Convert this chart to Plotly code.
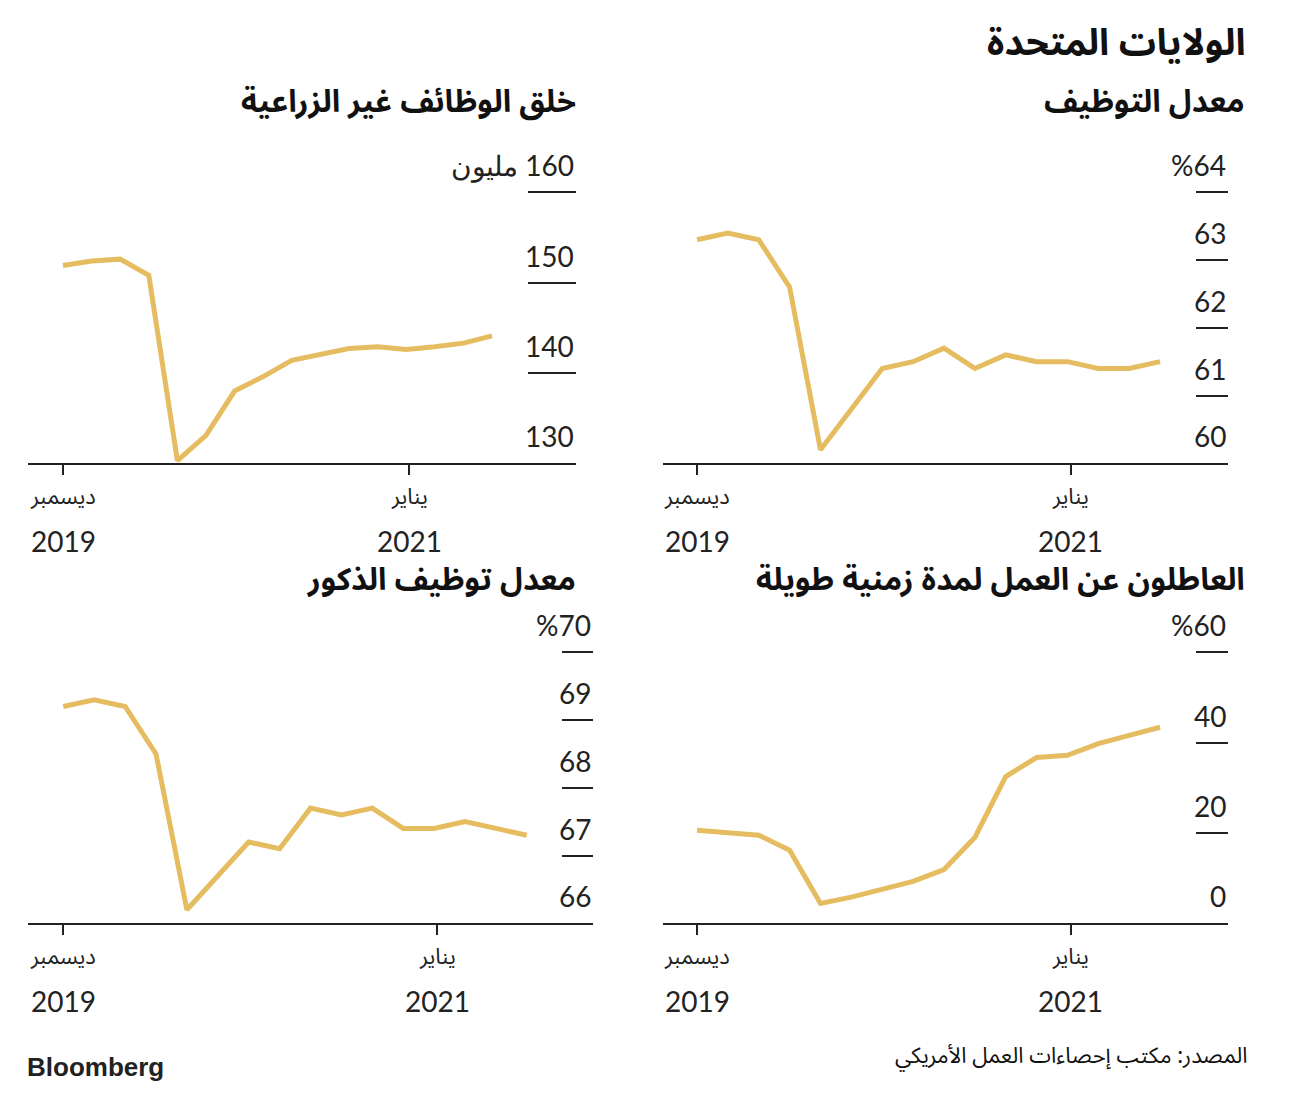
import plotly.graph_objects as go

# ---------------- data ----------------
months = list(range(16))  # monthly points, first point = "Dec 2019" tick

participation = [63.3, 63.4, 63.3, 62.6, 60.2, 60.8, 61.4, 61.5, 61.7, 61.4, 61.6, 61.5, 61.5, 61.4, 61.4, 61.5]
payrolls = [151.9, 152.4, 152.6, 150.8, 130.3, 133.1, 138.0, 139.6, 141.4, 142.1, 142.7, 142.9, 142.6, 142.9, 143.3, 144.1]
long_term = [20.6, 20.1, 19.5, 16.2, 4.4, 5.8, 7.5, 9.3, 11.9, 19.0, 32.5, 36.7, 37.2, 39.8, 41.6, 43.4]
male_rate = [69.2, 69.3, 69.2, 68.5, 66.2, 66.7, 67.2, 67.1, 67.7, 67.6, 67.7, 67.4, 67.4, 67.5, 67.4, 67.3]

yt_participation = [60, 61, 62, 63, 64]
yl_participation = ["60", "61", "62", "63", "%64"]
yt_payrolls = [130, 140, 150, 160]
yl_payrolls = ["130", "140", "150", "مليون \u200e160"]
yt_long_term = [0, 20, 40, 60]
yl_long_term = ["0", "20", "40", "%60"]
yt_male = [66, 67, 68, 69, 70]
yl_male = ["66", "67", "68", "69", "%70"]

x_ticks = [0, 12.1]
x_months = ["ديسمبر", "يناير"]
x_years = ["2019", "2021"]

title_main = "الولايات المتحدة"
t_participation = "معدل التوظيف"
t_payrolls = "خلق الوظائف غير الزراعية"
t_long_term = "العاطلون عن العمل لمدة زمنية طويلة"
t_male = "معدل توظيف الذكور"
source = "المصدر: مكتب إحصاءات العمل الأمريكي"

# ---------------- layout helpers ----------------
OFF = 8                      # page body margin
FW, FH = 1280, 1078          # figure size (fits inside window with body margin)
GOLD = "rgb(229,189,96)"
INK = "#222222"
AR = "Noto Sans Arabic, DejaVu Sans, sans-serif"
NUM = "Lato, Open Sans, sans-serif"

def px(p):
    return (p - OFF) / FW

def py(p):
    return 1 - (p - OFF) / FH

fig = go.Figure()
layout = dict(
    width=FW, height=FH, margin=dict(l=0, r=0, t=0, b=0),
    paper_bgcolor="white", plot_bgcolor="white", showlegend=False,
)
annotations = []

panels = [
    # (values, yticks, ylabels, title, x0, x1, first_pt, spacing, base, toptick, ticklen, title_right, title_y)
    (payrolls, yt_payrolls, yl_payrolls, t_payrolls, 28, 576, 63, 28.6, 463.3, 192.3, 48, 578, 102),
    (participation, yt_participation, yl_participation, t_participation, 663, 1228, 697, 30.87, 463.3, 192.3, 32, 1247, 102),
    (male_rate, yt_male, yl_male, t_male, 28, 593.3, 63.3, 30.9, 923.3, 652.3, 31, 578, 580),
    (long_term, yt_long_term, yl_long_term, t_long_term, 663, 1228, 697, 30.87, 923.3, 652.3, 32, 1247, 580),
]

for i, (vals, yt, yl, title, x0, x1, fp, sp, base, toptick, tlen, tr, ty) in enumerate(panels):
    n = "" if i == 0 else str(i + 1)
    xa, ya = "x" + n, "y" + n
    fig.add_trace(go.Scatter(
        x=months, y=vals, mode="lines", xaxis=xa, yaxis=ya,
        line=dict(color=GOLD, width=5), hoverinfo="skip",
    ))
    dom_top = toptick - 45
    ymin, ymax_tick = yt[0], yt[-1]
    ymax = ymin + (ymax_tick - ymin) * (base - dom_top) / (base - toptick)
    xr = [-(fp - x0) / sp, (x1 - fp) / sp]
    layout["xaxis" + n] = dict(
        domain=[px(x0), px(x1)], range=xr, anchor=ya,
        showgrid=False, zeroline=False, showline=True, linecolor=INK, linewidth=2,
        ticks="outside", ticklen=10, tickwidth=1.5, tickcolor=INK,
        tickvals=x_ticks, showticklabels=False, fixedrange=True,
    )
    layout["yaxis" + n] = dict(
        domain=[py(base), py(dom_top)], range=[ymin, ymax], anchor=xa,
        side="right", showgrid=False, zeroline=False, showline=False,
        ticks="inside", ticklen=tlen, tickwidth=2, tickcolor=INK,
        tickvals=yt, showticklabels=False, fixedrange=True,
    )
    for v, lab in zip(yt, yl):
        annotations.append(dict(
            text=lab, xref=xa + " domain", yref=ya, x=1, y=v, xanchor="right", yanchor="middle",
            yshift=27, showarrow=False, font=dict(family=NUM, size=28, color=INK),
        ))
    for tv, m, yr in zip(x_ticks, x_months, x_years):
        annotations.append(dict(
            text=m, xref=xa, yref="paper", x=tv, y=py(base + 34), xanchor="center", yanchor="middle",
            showarrow=False, font=dict(family=AR, size=22, color=INK),
        ))
        annotations.append(dict(
            text=yr, xref=xa, yref="paper", x=tv, y=py(base + 78), xanchor="center", yanchor="middle",
            showarrow=False, font=dict(family=NUM, size=28, color=INK),
        ))
    annotations.append(dict(
        text="<b>" + title + "</b>", xref="paper", yref="paper", x=px(tr), y=py(ty),
        xanchor="right", yanchor="middle", showarrow=False,
        font=dict(family=AR, size=31, color="#111111"),
    ))

annotations.append(dict(
    text="<b>" + title_main + "</b>", xref="paper", yref="paper", x=px(1247), y=py(43),
    xanchor="right", yanchor="middle", showarrow=False,
    font=dict(family=AR, size=37, color="#111111"),
))
annotations.append(dict(
    text=source, xref="paper", yref="paper", x=px(1249), y=py(1056),
    xanchor="right", yanchor="middle", showarrow=False,
    font=dict(family=AR, size=22, color="#111111"),
))
annotations.append(dict(
    text="<b>Bloomberg</b>", xref="paper", yref="paper", x=px(25), y=py(1067),
    xanchor="left", yanchor="middle", showarrow=False,
    font=dict(family="Liberation Sans, Arial, sans-serif", size=26, color="#222222"),
))

layout["annotations"] = annotations
fig.update_layout(**layout)
fig.write_html("out.html")
